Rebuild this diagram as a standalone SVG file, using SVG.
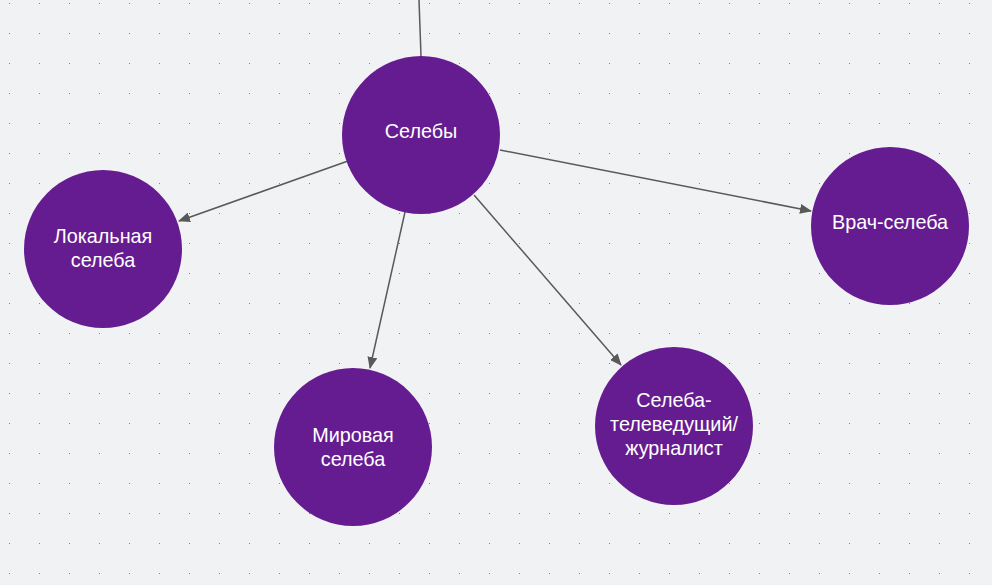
<svg xmlns="http://www.w3.org/2000/svg" width="992" height="585" viewBox="0 0 992 585">
<defs>
<pattern id="grid" x="0" y="0" width="30" height="30" patternUnits="userSpaceOnUse">
<rect x="9" y="3" width="1" height="1" fill="#7d8085"/>
</pattern>
<marker id="arr" markerWidth="12" markerHeight="10" refX="11" refY="5" orient="auto" markerUnits="userSpaceOnUse">
<path d="M0,0 L12,5 L0,10 z" fill="#595959"/>
</marker>
<style>
.node{fill:#661c91}
.lbl{font-family:"Liberation Sans",Arial,sans-serif;font-size:19.8px;fill:#ffffff;text-anchor:middle}
.edge{stroke:#595959;stroke-width:1.5;fill:none}
</style>
</defs>
<rect width="992" height="585" fill="#f1f2f4"/>
<rect width="992" height="585" fill="url(#grid)"/>
<g id="connectors">
<line class="edge" x1="419" y1="0" x2="421" y2="56"/>
<line class="edge" x1="348" y1="161" x2="179" y2="221" marker-end="url(#arr)"/>
<line class="edge" x1="405" y1="212" x2="370" y2="368" marker-end="url(#arr)"/>
<line class="edge" x1="474" y1="195" x2="621" y2="365" marker-end="url(#arr)"/>
<line class="edge" x1="500" y1="150" x2="811" y2="211" marker-end="url(#arr)"/>
</g>
<g id="celebs">
<circle class="node" cx="421" cy="135" r="79"/>
<text class="lbl" x="421" y="138">Селебы</text>
</g>
<g id="local">
<circle class="node" cx="103" cy="249" r="79"/>
<text class="lbl" x="103" y="243">Локальная</text>
<text class="lbl" x="103" y="267">селеба</text>
</g>
<g id="world">
<circle class="node" cx="353" cy="447" r="79"/>
<text class="lbl" x="353" y="442">Мировая</text>
<text class="lbl" x="353" y="466">селеба</text>
</g>
<g id="tv">
<circle class="node" cx="674" cy="426" r="79"/>
<text class="lbl" x="674" y="407">Селеба-</text>
<text class="lbl" x="674" y="431">телеведущий/</text>
<text class="lbl" x="674" y="455">журналист</text>
</g>
<g id="doctor">
<circle class="node" cx="890" cy="226" r="79"/>
<text class="lbl" x="890" y="229">Врач-селеба</text>
</g>
</svg>
